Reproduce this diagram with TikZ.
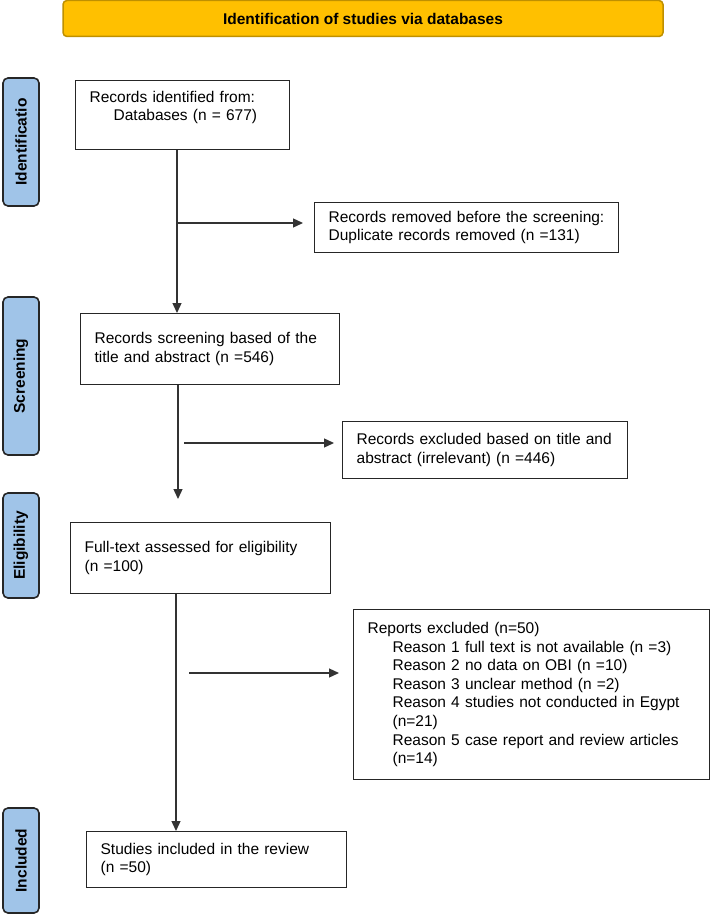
\documentclass[tikz,border=0pt]{standalone}
\usepackage{fontspec}
\setmainfont{Liberation Sans}
\usetikzlibrary{arrows.meta,positioning}
\definecolor{headgold}{HTML}{FFC000}
\definecolor{headedge}{HTML}{BF9000}
\definecolor{phaseblue}{HTML}{A0C4E8}

\begin{document}
\begin{tikzpicture}[
  x=1pt, y=-1pt,
  font=\fontsize{15.5pt}{18.6pt}\selectfont,
  box/.style={draw=black!85, line width=1.3pt, anchor=north west, align=left, inner xsep=14pt, inner ysep=3pt},
  phase/.style={draw=black!85, line width=1.6pt, rounded corners=5pt, fill=phaseblue, minimum height=36pt, rotate=90, font=\fontsize{15.5pt}{18.6pt}\selectfont\bfseries},
  head/.style={draw=headedge, line width=1.5pt, rounded corners=4pt, fill=headgold, minimum width=600pt, minimum height=36pt, font=\fontsize{15.5pt}{18.6pt}\selectfont\bfseries},
  arr/.style={-{Triangle[length=10pt,width=9pt]}, line width=1.3pt, draw=black!80}
]
\useasboundingbox (0,0) rectangle (710,915);
\node[head] (head) at (363,18.5) {Identification of studies via databases};
\node[phase, minimum width=128pt] (pid) at (21,142) {Identificatio};
\node[phase, minimum width=158pt] (pscr) at (21,376) {Screening};
\node[phase, minimum width=105pt] (pelig) at (21,545.5) {Eligibility};
\node[phase, minimum width=105pt] (pincl) at (21,860.5) {Included};
\node[box, text width=186pt, minimum height=69pt] (ident) at (75,80) {Records identified from:\\\hspace*{24pt}Databases (n = 677)\\\mbox{}};
\node[box, text width=276pt, minimum height=50pt] (dupl) at (314,202) {Records removed before the screening:\\Duplicate records removed (n =131)};
\node[box, text width=231pt, minimum height=71pt] (screen) at (80,313) {Records screening based of the\\title and abstract (n =546)};
\node[box, text width=257pt, minimum height=57pt] (excl) at (342,421) {Records excluded based on title and\\abstract (irrelevant) (n =446)};
\node[box, text width=232pt, minimum height=71pt] (full) at (70,522) {Full-text assessed for eligibility\\(n =100)};
\node[box, text width=328pt, minimum height=170pt] (reports) at (353,609) {Reports excluded (n=50)\\
  \hspace*{25pt}Reason 1 full text is not available (n =3)\\
  \hspace*{25pt}Reason 2 no data on OBI (n =10)\\
  \hspace*{25pt}Reason 3 unclear method (n =2)\\
  \hspace*{25pt}Reason 4 studies not conducted in Egypt\\
  \hspace*{25pt}(n=21)\\
  \hspace*{25pt}Reason 5 case report and review articles\\
  \hspace*{25pt}(n=14)};
\node[box, text width=232pt, minimum height=56pt] (incl) at (86,831) {Studies included in the review\\(n =50)};
\coordinate (stop) at (178,499);
\coordinate (exstart) at (184,443);
\coordinate (repstart) at (189,673);
\draw[arr] (ident.south -| 177,0) -- (screen.north -| 177,0);
\draw[arr, shorten >=11pt] (177,223) -- (177,223 -| dupl.west);
\draw[arr] (screen.south -| stop) -- (stop);
\draw[arr, shorten >=8pt] (exstart) -- (exstart -| excl.west);
\draw[arr] (full.south -| 176,0) -- (incl.north -| 176,0);
\draw[arr, shorten >=14pt] (repstart) -- (repstart -| reports.west);
\end{tikzpicture}
\end{document}
